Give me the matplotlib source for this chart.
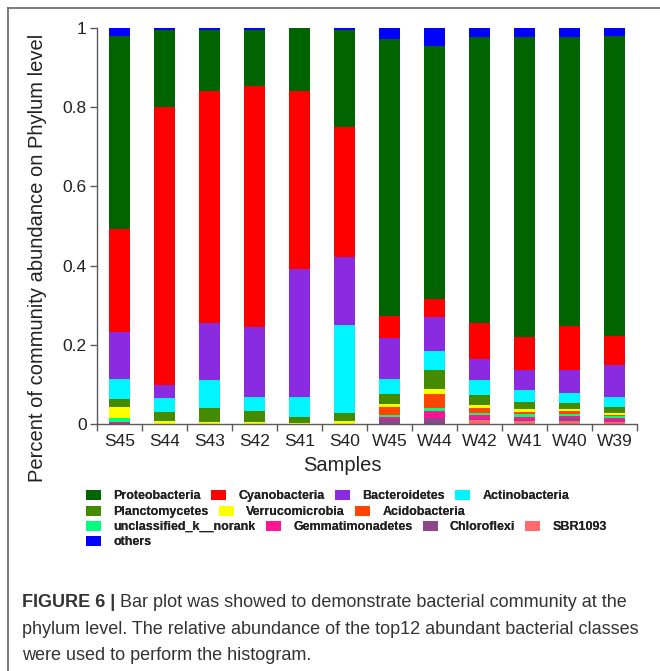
import numpy as np
import matplotlib
matplotlib.use('Agg')
import matplotlib.pyplot as plt
from matplotlib.lines import Line2D

plt.rcParams['font.family'] = ['Liberation Sans', 'DejaVu Sans']

# samples on the x axis
samples = ['S45', 'S44', 'S43', 'S42', 'S41', 'S40', 'W45', 'W44', 'W42', 'W41', 'W40', 'W39']

# relative abundance of each phylum per sample
proteobacteria = [0.489, 0.194, 0.152, 0.140, 0.160, 0.245, 0.701, 0.639, 0.723, 0.758, 0.729, 0.757]
cyanobacteria = [0.260, 0.702, 0.586, 0.609, 0.448, 0.328, 0.054, 0.044, 0.090, 0.083, 0.112, 0.075]
bacteroidetes = [0.119, 0.033, 0.146, 0.176, 0.325, 0.170, 0.104, 0.087, 0.053, 0.050, 0.058, 0.079]
actinobacteria = [0.051, 0.034, 0.069, 0.035, 0.050, 0.222, 0.038, 0.048, 0.038, 0.031, 0.026, 0.026]
planctomycetes = [0.018, 0.023, 0.035, 0.030, 0.014, 0.021, 0.026, 0.048, 0.026, 0.017, 0.014, 0.014]
verrucomicrobia = [0.030, 0.008, 0.006, 0.004, 0.003, 0.008, 0.007, 0.012, 0.006, 0.008, 0.006, 0.007]
acidobacteria = [0.000, 0.000, 0.000, 0.000, 0.000, 0.000, 0.020, 0.035, 0.012, 0.005, 0.006, 0.002]
unclassified = [0.010, 0.000, 0.000, 0.000, 0.000, 0.000, 0.005, 0.007, 0.006, 0.007, 0.006, 0.006]
gemmatimonadetes = [0.002, 0.000, 0.000, 0.000, 0.000, 0.000, 0.006, 0.018, 0.010, 0.007, 0.006, 0.006]
chloroflexi = [0.002, 0.000, 0.000, 0.000, 0.000, 0.000, 0.012, 0.016, 0.003, 0.003, 0.006, 0.003]
sbr1093 = [0.000, 0.000, 0.000, 0.000, 0.000, 0.000, 0.000, 0.000, 0.010, 0.008, 0.008, 0.005]
others = [0.019, 0.006, 0.006, 0.006, 0.000, 0.006, 0.027, 0.046, 0.023, 0.023, 0.023, 0.020]

# legend order
names = ['Proteobacteria', 'Cyanobacteria', 'Bacteroidetes', 'Actinobacteria',
         'Planctomycetes', 'Verrucomicrobia', 'Acidobacteria',
         'unclassified_k__norank', 'Gemmatimonadetes', 'Chloroflexi', 'SBR1093', 'others']
series = [proteobacteria, cyanobacteria, bacteroidetes, actinobacteria,
          planctomycetes, verrucomicrobia, acidobacteria,
          unclassified, gemmatimonadetes, chloroflexi, sbr1093, others]
colors = ['#006400', '#FF0000', '#8A2BE2', '#00F5FF',
          '#458B00', '#FFFF00', '#FF4500',
          '#00FF7F', '#FF1493', '#8B4789', '#FF6A6A', '#0000FF']

# stacking order from the bottom: SBR1093 ... Proteobacteria, then others on top
stackOrder = list(range(10, -1, -1)) + [11]

fig = plt.figure(figsize=(6.6, 6.71), dpi=100)
ax = fig.add_axes([97 / 660, 1 - 424 / 671, 540 / 660, 396 / 671])

x = np.arange(len(samples))
bottom = np.zeros(len(samples))
handles = {}
for i in stackOrder:
    vals = np.array(series[i])
    bars = ax.bar(x, vals, bottom=bottom, width=0.48, color=colors[i], linewidth=0)
    handles[i] = bars
    bottom = bottom + vals

axisGray = '#5a5a5a'
ax.set_xlim(-0.5, len(samples) - 0.5)
ax.set_ylim(0, 1)
ax.spines['top'].set_visible(False)
ax.spines['right'].set_visible(False)
for s in ['left', 'bottom']:
    ax.spines[s].set_color(axisGray)
    ax.spines[s].set_linewidth(1.0)

ax.set_yticks([0, 0.2, 0.4, 0.6, 0.8, 1.0])
ax.set_yticklabels(['0', '0.2', '0.4', '0.6', '0.8', '1'])
ax.set_xticks(x)
ax.set_xticklabels(samples)
ax.set_xticks(np.arange(len(samples) + 1) - 0.5, minor=True)
ax.tick_params(axis='x', which='major', length=0, pad=7, labelsize=12.5, colors='#222222')
ax.tick_params(axis='x', which='minor', length=5, width=1.0, color=axisGray)
ax.tick_params(axis='y', length=5, width=1.0, color=axisGray, pad=2.5, labelsize=12.5,
               labelcolor='#222222')

ax.set_xlabel('Samples', fontsize=14.5, color='#222222')
ax.xaxis.set_label_coords(0.455, -0.08)
ax.set_ylabel('Percent of community abundance on Phylum level', fontsize=14.5, color='#222222')
ax.yaxis.set_label_coords(-0.093, 0.42)

# legend laid out in rows like the original
rows = [[0, 1, 2, 3], [4, 5, 6], [7, 8, 9, 10], [11]]
rowY = [496, 512, 527, 542]
for r, ry in zip(rows, rowY):
    leg = fig.legend([handles[i] for i in r], [names[i] for i in r], ncol=len(r),
                     loc='center left', bbox_to_anchor=(86 / 660, 1 - ry / 671),
                     frameon=False, borderpad=0, borderaxespad=0,
                     handlelength=1.2, handleheight=0.8, handletextpad=1.0,
                     columnspacing=0.8, prop={'size': 9, 'weight': 'bold'})
    for t in leg.get_texts():
        t.set_color('#222222')
    fig.add_artist(leg)

# frame lines of the figure panel
fig.add_artist(Line2D([8 / 660, 8 / 660], [0, 1 - 8 / 671], transform=fig.transFigure,
                      color='#666666', linewidth=1.2))
fig.add_artist(Line2D([8 / 660, 1], [1 - 8 / 671, 1 - 8 / 671], transform=fig.transFigure,
                      color='#666666', linewidth=1.2))

# caption
capColor = '#333333'
capSize = 13
renderer = fig.canvas.get_renderer()
head = fig.text(22 / 660, 1 - 607 / 671, 'FIGURE 6 |', fontsize=capSize, fontweight='bold',
                color=capColor, va='baseline')
headEnd = head.get_window_extent(renderer).x1 / 660
fig.text(headEnd + 5 / 660, 1 - 607 / 671,
         'Bar plot was showed to demonstrate bacterial community at the',
         fontsize=capSize, color=capColor, va='baseline')
fig.text(22 / 660, 1 - 634 / 671,
         'phylum level. The relative abundance of the top12 abundant bacterial classes',
         fontsize=capSize, color=capColor, va='baseline')
fig.text(22 / 660, 1 - 660 / 671, 'were used to perform the histogram.',
         fontsize=capSize, color=capColor, va='baseline')

plt.savefig('out.png', dpi=100)
